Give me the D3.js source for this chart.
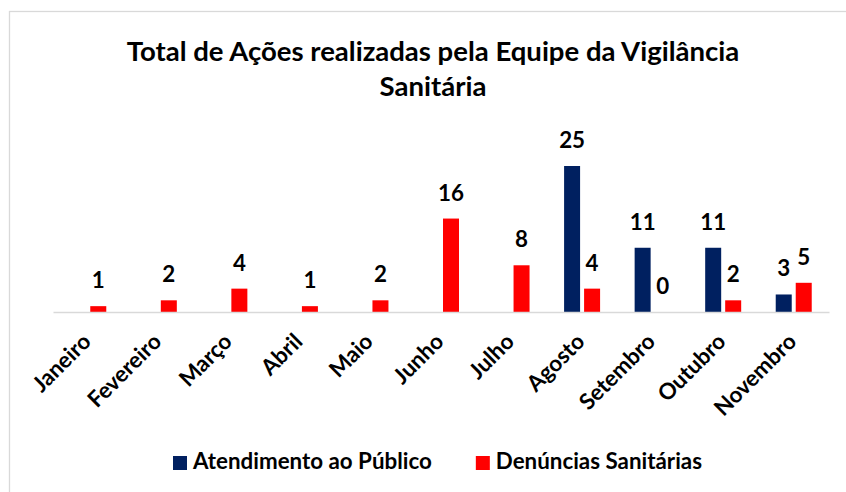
<!DOCTYPE html>
<html>
<head>
<meta charset="utf-8">
<script src="https://cdn.jsdelivr.net/npm/d3@7"></script>
<style>
  body { margin: 0; background: #fff; }
  svg { display: block; font-family: Lato, "Open Sans", sans-serif; font-weight: bold; }
</style>
</head>
<body>
<div id="chart"></div>
<script>
const months = ["Janeiro", "Fevereiro", "Março", "Abril", "Maio", "Junho",
                "Julho", "Agosto", "Setembro", "Outubro", "Novembro"]
const atendimento = [null, null, null, null, null, null, null, 25, 11, 11, 3]
const denuncias = [1, 2, 4, 1, 2, 16, 8, 4, 0, 2, 5]
const seriesNames = ["Atendimento ao Público", "Denúncias Sanitárias"]
const titleLines = ["Total de Ações realizadas pela Equipe da Vigilância", "Sanitária"]

const width = 846, height = 492
const margin = { top: 166, right: 17, bottom: 180, left: 53 }
const colors = ["#002060", "#ff0000"]

const svg = d3.select("#chart").append("svg")
    .attr("width", width)
    .attr("height", height)

// chart frame
svg.append("rect")
    .attr("x", 9.5).attr("y", 11.5)
    .attr("width", width + 20).attr("height", height + 20)
    .attr("fill", "none")
    .attr("stroke", "#d9d9d9")
    .attr("stroke-width", 1.3)

// measure a string so the substituted font can match the original widths
function measure(str, size) {
    const t = svg.append("text").attr("font-size", size).text(str)
    const w = t.node().getComputedTextLength()
    t.remove()
    return w
}
const fs = 24 * 239 / measure(seriesNames[0], 24)
const titleFs = 26 * 613 / measure(titleLines[0], 26)

const x0 = d3.scaleBand()
    .domain(months)
    .range([margin.left, width - margin.right])

const x1 = d3.scaleBand()
    .domain([0, 1])
    .range([-18, 18])
    .paddingInner(0.2)

const y = d3.scaleLinear()
    .domain([0, 25])
    .range([height - margin.bottom, margin.top])

const baseY = y(0)

const data = months.map((m, i) => ({ month: m, values: [atendimento[i], denuncias[i]] }))

const groups = svg.append("g")
    .selectAll("g")
    .data(data)
    .join("g")
    .attr("transform", d => `translate(${x0(d.month) + x0.bandwidth() / 2},0)`)

const items = groups.selectAll("g")
    .data(d => d.values.map((v, k) => ({ v, k })).filter(e => e.v !== null))
    .join("g")

items.append("rect")
    .attr("x", e => x1(e.k))
    .attr("y", e => y(e.v))
    .attr("width", x1.bandwidth())
    .attr("height", e => baseY - y(e.v))
    .attr("fill", e => colors[e.k])

items.append("text")
    .attr("x", e => x1(e.k) + x1.bandwidth() / 2)
    .attr("y", e => y(e.v) - 18)
    .attr("text-anchor", "middle")
    .attr("font-size", fs)
    .attr("fill", "#000")
    .text(e => e.v)

// x axis
svg.append("g")
    .attr("transform", `translate(0,${baseY})`)
    .call(d3.axisBottom(x0).tickSize(0).tickSizeOuter(0))
    .call(g => g.select(".domain").attr("stroke", "#d9d9d9").attr("stroke-width", 1.3))
    .call(g => g.selectAll("text")
        .attr("y", 0).attr("dy", 0)
        .attr("transform", "translate(4,31) rotate(-45)")
        .attr("text-anchor", "end")
        .attr("font-size", fs)
        .attr("font-family", "Lato, 'Open Sans', sans-serif")
        .attr("font-weight", "bold")
        .attr("fill", "#000"))

// title
svg.append("text")
    .attr("x", 433)
    .attr("y", 61)
    .attr("text-anchor", "middle")
    .attr("font-size", titleFs)
    .selectAll("tspan")
    .data(titleLines)
    .join("tspan")
    .attr("x", 433)
    .attr("dy", (d, i) => i ? 35 : 0)
    .text(d => d)

// legend
const legend = svg.append("g").attr("transform", "translate(173,456)")
let lx = 0
seriesNames.forEach((name, i) => {
    legend.append("rect")
        .attr("x", lx).attr("y", 0)
        .attr("width", 14).attr("height", 14)
        .attr("fill", colors[i])
    const t = legend.append("text")
        .attr("x", lx + 20).attr("y", 13)
        .attr("font-size", fs)
        .text(name)
    lx += 20 + t.node().getComputedTextLength() + 44
})
</script>
</body>
</html>
